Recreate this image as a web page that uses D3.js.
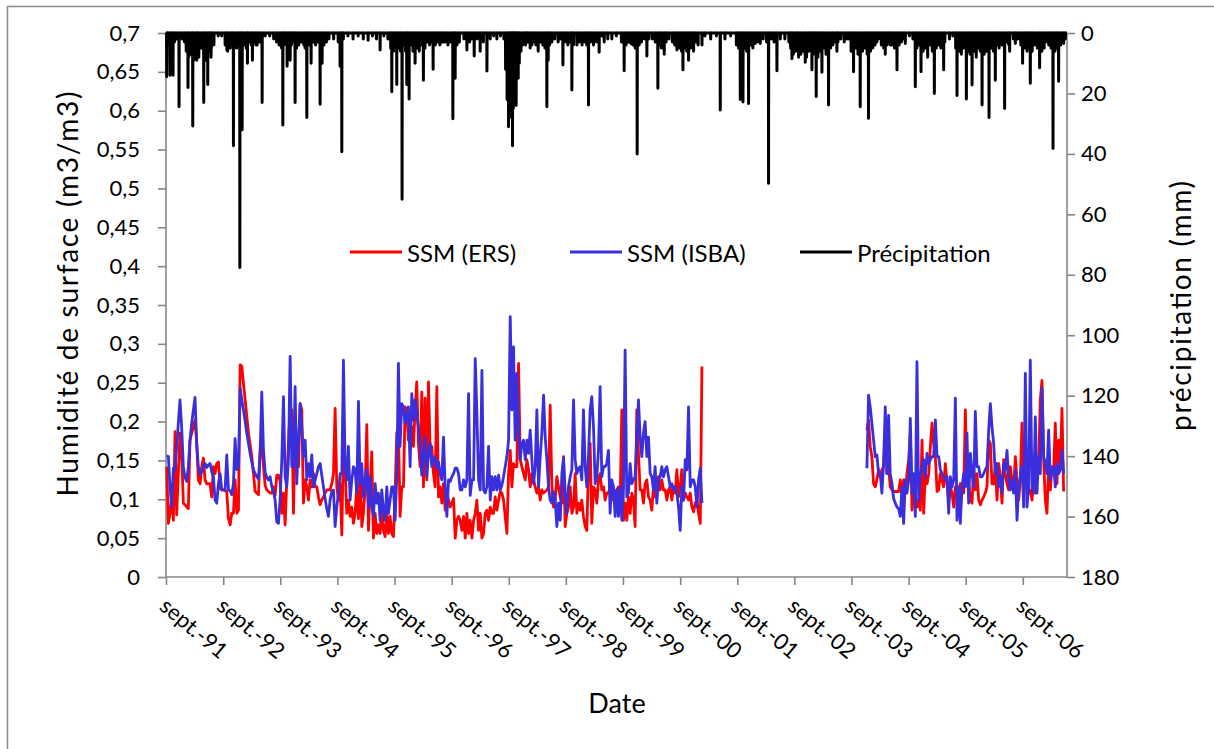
<!DOCTYPE html>
<html><head><meta charset="utf-8">
<script src="https://cdn.jsdelivr.net/npm/d3@7"></script>
<style>
body{margin:0;background:#fff;}
text{font-family:Lato,"Open Sans",sans-serif;fill:#000;}
</style></head>
<body><svg id="chart" width="1214" height="749"></svg>
<script>
// ---------- data (dates are decimal years) ----------
const xTickLabels = ["sept.-91","sept.-92","sept.-93","sept.-94","sept.-95","sept.-96","sept.-97","sept.-98","sept.-99","sept.-00","sept.-01","sept.-02","sept.-03","sept.-04","sept.-05","sept.-06"];
const xTickYears = [1991,1992,1993,1994,1995,1996,1997,1998,1999,2000,2001,2002,2003,2004,2005,2006];
const ssmTicks = [0,0.05,0.1,0.15,0.2,0.25,0.3,0.35,0.4,0.45,0.5,0.55,0.6,0.65,0.7];
const ssmTickLabels = ["0","0,05","0,1","0,15","0,2","0,25","0,3","0,35","0,4","0,45","0,5","0,55","0,6","0,65","0,7"];
const precipTicks = [0,20,40,60,80,100,120,140,160,180];

// SSM period 1 (1991-2001)
const period1Dates = [
1991.678,1991.707,1991.736,1991.765,1991.795,1991.824,1991.853,1991.882,1991.911,1991.940,
1991.970,1991.999,1992.028,1992.057,1992.086,1992.116,1992.145,1992.174,1992.203,1992.232,
1992.262,1992.291,1992.320,1992.349,1992.378,1992.407,1992.437,1992.466,1992.495,1992.524,
1992.553,1992.583,1992.612,1992.641,1992.670,1992.699,1992.728,1992.758,1992.787,1992.816,
1992.845,1992.874,1992.904,1992.933,1992.962,1992.991,1993.020,1993.050,1993.079,1993.108,
1993.137,1993.166,1993.195,1993.225,1993.254,1993.283,1993.312,1993.341,1993.371,1993.400,
1993.429,1993.458,1993.487,1993.517,1993.546,1993.575,1993.604,1993.633,1993.662,1993.692,
1993.721,1993.750,1993.779,1993.808,1993.838,1993.867,1993.896,1993.925,1993.954,1993.984,
1994.013,1994.042,1994.071,1994.101,1994.130,1994.159,1994.188,1994.217,1994.247,1994.276,
1994.305,1994.334,1994.363,1994.392,1994.422,1994.451,1994.480,1994.509,1994.538,1994.568,
1994.597,1994.626,1994.655,1994.684,1994.714,1994.743,1994.772,1994.801,1994.830,1994.859,
1994.889,1994.918,1994.947,1994.976,1995.005,1995.035,1995.064,1995.093,1995.122,1995.151,
1995.181,1995.210,1995.239,1995.268,1995.297,1995.327,1995.356,1995.385,1995.414,1995.443,
1995.473,1995.502,1995.531,1995.560,1995.589,1995.618,1995.648,1995.677,1995.706,1995.735,
1995.764,1995.794,1995.823,1995.852,1995.881,1995.910,1995.940,1995.969,1995.998,1996.027,
1996.056,1996.085,1996.115,1996.144,1996.173,1996.202,1996.231,1996.261,1996.290,1996.319,
1996.348,1996.377,1996.407,1996.436,
1996.465,1996.494,1996.523,1996.553,1996.582,1996.611,1996.640,1996.669,1996.699,1996.728,
1996.757,1996.786,1996.815,1996.844,1996.874,1996.903,1996.932,1996.961,1996.990,1997.020,
1997.049,1997.078,1997.107,1997.136,1997.166,1997.195,1997.224,1997.253,1997.282,1997.311,
1997.341,1997.370,1997.399,1997.428,1997.457,1997.487,1997.516,1997.545,1997.574,1997.603,
1997.633,1997.662,1997.691,1997.720,1997.749,1997.778,1997.808,1997.837,1997.866,1997.895,
1997.924,1997.954,1997.983,1998.012,1998.041,1998.070,1998.100,1998.129,1998.158,1998.187,
1998.216,1998.245,1998.275,1998.304,1998.333,1998.362,1998.391,1998.421,1998.450,1998.479,
1998.508,1998.537,1998.567,1998.596,1998.625,1998.654,1998.683,1998.712,1998.742,1998.771,
1998.800,1998.829,1998.858,1998.888,
1998.916,1998.945,1998.974,1999.004,1999.033,1999.062,1999.091,1999.120,1999.150,1999.179,
1999.208,1999.237,1999.266,1999.295,1999.325,1999.354,1999.383,1999.412,1999.441,1999.471,
1999.500,1999.529,1999.558,1999.587,1999.617,1999.646,1999.675,1999.704,1999.733,1999.762,
1999.792,1999.821,1999.850,1999.879,1999.908,1999.938,1999.967,1999.996,2000.025,2000.054,
2000.084,2000.113,2000.142,2000.171,2000.200,2000.229,2000.259,2000.288,2000.317,2000.346,
2000.375,2000.405,2000.434,2000.463,2000.492,2000.521,2000.551,2000.580,2000.609,2000.638,
2000.667,2000.696,2000.726,2000.755,2000.784,2000.813,2000.842,2000.872,2000.901,2000.930,
2000.959,2000.988,2001.018,2001.047];
const period1ERS = [
0.142,0.069,0.082,0.103,0.073,0.187,0.080,0.133,0.185,0.159,
0.095,0.093,0.090,0.088,0.176,0.185,0.193,0.202,0.172,0.125,
0.120,0.142,0.153,0.125,0.120,0.120,0.120,0.103,0.142,0.133,
0.146,0.148,0.114,0.112,0.112,0.111,0.110,0.075,0.067,0.082,
0.082,0.125,0.082,0.086,0.273,0.271,0.249,0.228,0.206,0.185,
0.170,0.155,0.133,0.110,0.108,0.106,0.163,0.176,0.142,0.118,
0.112,0.110,0.108,0.108,0.116,0.105,0.131,0.131,0.123,0.082,
0.108,0.067,0.125,0.172,0.215,0.215,0.082,0.193,0.176,0.142,
0.223,0.215,0.095,0.125,0.116,0.099,0.125,0.116,0.133,0.116,
0.116,0.103,0.093,0.099,0.103,0.108,0.112,0.112,0.112,0.120,
0.133,0.217,0.116,0.099,0.120,0.054,0.176,0.142,0.082,0.099,
0.078,0.090,0.069,0.082,0.116,0.075,0.146,0.065,0.082,0.112,
0.196,0.060,0.116,0.161,0.050,0.082,0.056,0.067,0.056,0.090,
0.060,0.052,0.082,0.056,0.078,0.056,0.052,0.108,0.185,0.193,
0.078,0.116,0.116,0.219,0.215,0.176,0.189,0.193,0.168,0.215,
0.251,0.172,0.142,0.238,0.116,0.230,0.125,0.251,0.163,0.168,
0.133,0.116,0.245,0.103,
0.116,0.095,0.120,0.086,0.108,0.099,0.090,0.095,0.101,0.050,
0.073,0.078,0.073,0.060,0.078,0.050,0.082,0.056,0.073,0.050,
0.073,0.082,0.099,0.060,0.082,0.050,0.056,0.082,0.086,0.073,
0.090,0.082,0.082,0.103,0.086,0.099,0.110,0.108,0.099,0.078,
0.056,0.133,0.163,0.116,0.146,0.142,0.142,0.275,0.151,0.142,
0.133,0.125,0.151,0.138,0.116,0.133,0.125,0.116,0.108,0.116,
0.099,0.112,0.108,0.110,0.112,0.116,0.221,0.116,0.090,0.099,
0.129,0.116,0.103,0.095,0.155,0.065,0.082,0.090,0.116,0.082,
0.090,0.133,0.082,0.095,
0.086,0.099,0.078,0.065,0.060,0.142,0.172,0.069,0.116,0.112,
0.095,0.125,0.133,0.112,0.116,0.099,0.108,0.108,0.116,0.099,
0.108,0.103,0.112,0.116,0.099,0.215,0.073,0.095,0.073,0.103,
0.082,0.108,0.099,0.065,0.215,0.159,0.112,0.112,0.095,0.120,
0.125,0.103,0.099,0.086,0.116,0.103,0.112,0.129,0.112,0.125,
0.112,0.112,0.099,0.112,0.116,0.099,0.116,0.108,0.138,0.103,
0.116,0.138,0.099,0.108,0.103,0.099,0.108,0.090,0.084,0.095,
0.099,0.082,0.069,0.271];
const period1ISBA = [
0.156,0.155,0.116,0.090,0.140,0.138,0.168,0.198,0.228,0.193,
0.142,0.128,0.123,0.142,0.176,0.198,0.215,0.231,0.172,0.142,
0.132,0.135,0.142,0.146,0.141,0.144,0.146,0.135,0.129,0.099,
0.095,0.120,0.133,0.112,0.112,0.112,0.157,0.112,0.111,0.106,
0.120,0.178,0.138,0.142,0.243,0.228,0.215,0.200,0.185,0.172,
0.159,0.148,0.138,0.133,0.129,0.126,0.159,0.238,0.163,0.135,
0.128,0.125,0.129,0.116,0.110,0.099,0.071,0.069,0.099,0.151,
0.232,0.129,0.116,0.151,0.284,0.142,0.142,0.245,0.120,0.176,
0.223,0.193,0.155,0.176,0.125,0.146,0.129,0.157,0.116,0.125,
0.133,0.142,0.146,0.131,0.116,0.101,0.088,0.078,0.099,0.110,
0.112,0.065,0.090,0.108,0.133,0.133,0.279,0.142,0.125,0.168,
0.099,0.125,0.142,0.138,0.108,0.226,0.120,0.146,0.103,0.125,
0.138,0.090,0.129,0.090,0.078,0.120,0.095,0.108,0.073,0.112,
0.086,0.073,0.116,0.082,0.099,0.116,0.116,0.073,0.129,0.275,
0.168,0.223,0.219,0.198,0.206,0.219,0.142,0.236,0.202,0.228,
0.210,0.193,0.168,0.131,0.159,0.180,0.129,0.159,0.172,0.142,
0.151,0.155,0.140,0.148,
0.133,0.125,0.180,0.116,0.078,0.125,0.123,0.129,0.133,0.140,
0.140,0.133,0.112,0.112,0.125,0.116,0.125,0.236,0.105,0.125,
0.125,0.281,0.210,0.125,0.112,0.266,0.112,0.108,0.116,0.168,
0.099,0.129,0.112,0.129,0.112,0.131,0.112,0.118,0.129,0.142,
0.155,0.176,0.335,0.215,0.296,0.176,0.262,0.196,0.151,0.172,
0.176,0.151,0.176,0.159,0.189,0.151,0.120,0.142,0.215,0.116,
0.155,0.185,0.234,0.180,0.151,0.116,0.099,0.095,0.110,0.099,
0.065,0.095,0.073,0.133,0.153,0.108,0.082,0.116,0.129,0.138,
0.228,0.151,0.133,0.140,
0.142,0.125,0.215,0.142,0.116,0.155,0.215,0.232,0.193,0.120,
0.129,0.163,0.245,0.129,0.142,0.142,0.146,0.163,0.082,0.125,
0.116,0.078,0.112,0.078,0.116,0.073,0.116,0.292,0.103,0.108,
0.146,0.120,0.125,0.129,0.180,0.228,0.180,0.155,0.185,0.200,
0.155,0.180,0.133,0.129,0.112,0.142,0.095,0.125,0.129,0.142,
0.129,0.138,0.142,0.129,0.116,0.120,0.112,0.116,0.108,0.090,
0.060,0.116,0.099,0.151,0.138,0.219,0.116,0.125,0.125,0.116,
0.090,0.125,0.140,0.095];

// SSM period 2 (2003-2007)
const period2Dates = [
2003.937,2003.966,2003.995,2004.024,2004.054,2004.083,2004.112,2004.141,2004.170,2004.199,
2004.229,2004.258,2004.287,2004.316,2004.345,2004.375,2004.404,2004.433,2004.462,2004.491,
2004.521,2004.550,2004.579,2004.608,2004.637,2004.667,2004.696,2004.725,2004.754,2004.783,
2004.812,2004.842,2004.871,2004.900,2004.929,2004.958,2004.988,2005.017,2005.046,2005.075,
2005.104,2005.134,2005.163,2005.192,2005.221,2005.250,2005.279,2005.309,2005.338,2005.367,
2005.396,2005.425,2005.455,2005.484,2005.513,2005.542,2005.571,2005.601,2005.630,2005.659,
2005.688,2005.717,2005.747,2005.776,2005.805,2005.834,2005.863,2005.892,2005.922,2005.951,
2005.980,2006.009,2006.038,2006.068,2006.097,2006.126,2006.155,2006.184,2006.214,2006.243,
2006.272,2006.301,2006.330,2006.359,2006.389,2006.418,2006.447,2006.476,2006.505,2006.535,
2006.564,2006.593,2006.622,2006.651,2006.681,2006.710,2006.739,2006.768,2006.797,2006.827,
2006.856,2006.885,2006.914,2006.943,2006.972,2007.002,2007.031,2007.060,2007.089,2007.118,
2007.148,2007.177,2007.206,2007.235,2007.264,2007.294,2007.323,2007.352,2007.381];
const period2ERS = [
0.189,0.202,0.168,0.155,0.120,0.116,0.125,0.138,0.129,0.138,
0.142,0.193,0.133,0.142,0.116,0.112,0.110,0.110,0.110,0.110,
0.125,0.103,0.125,0.108,0.133,0.151,0.185,0.086,0.108,0.103,
0.090,0.099,0.086,0.176,0.082,0.133,0.120,0.133,0.168,0.198,
0.172,0.155,0.110,0.112,0.133,0.125,0.116,0.146,0.120,0.099,
0.116,0.108,0.090,0.116,0.112,0.103,0.120,0.116,0.108,0.215,
0.120,0.120,0.099,0.095,0.142,0.112,0.133,0.099,0.093,0.099,
0.103,0.108,0.116,0.176,0.172,0.120,0.120,0.142,0.099,0.146,
0.129,0.095,0.151,0.133,0.120,0.112,0.142,0.125,0.112,0.155,
0.125,0.099,0.125,0.198,0.116,0.163,0.125,0.108,0.112,0.099,
0.125,0.108,0.133,0.146,0.228,0.253,0.151,0.099,0.082,0.142,
0.112,0.142,0.138,0.198,0.120,0.176,0.138,0.217,0.110];
const period2ISBA = [
0.140,0.234,0.219,0.198,0.176,0.155,0.157,0.133,0.133,0.108,
0.146,0.219,0.133,0.208,0.133,0.120,0.101,0.095,0.090,0.088,
0.078,0.116,0.069,0.125,0.108,0.125,0.204,0.108,0.133,0.078,
0.277,0.099,0.133,0.138,0.151,0.129,0.159,0.146,0.151,0.155,
0.155,0.202,0.155,0.155,0.138,0.133,0.129,0.125,0.129,0.082,
0.129,0.116,0.125,0.230,0.073,0.116,0.069,0.116,0.133,0.116,
0.185,0.095,0.159,0.133,0.116,0.213,0.142,0.142,0.129,0.129,
0.133,0.138,0.142,0.189,0.223,0.193,0.172,0.133,0.146,0.116,
0.129,0.108,0.146,0.138,0.163,0.125,0.112,0.125,0.108,0.138,
0.073,0.116,0.129,0.142,0.090,0.262,0.090,0.116,0.279,0.116,
0.108,0.206,0.108,0.155,0.133,0.243,0.155,0.146,0.133,0.189,
0.125,0.138,0.142,0.116,0.146,0.133,0.138,0.163,0.133];

// Daily precipitation (mm): main rain events
const stormDates = [1991.678,1991.736,1991.789,1991.894,1992.051,1992.134,1992.204,1992.326,1992.396,1992.454,1992.729,1992.845,1992.957,1992.997,1993.090,1993.177,1993.237,1993.347,1993.710,1993.785,1993.838,1993.925,1994.130,1994.205,1994.363,1994.398,1994.713,1994.743,1995.204,1995.414,1995.619,1995.706,1995.799,1995.881,1995.922,1996.027,1996.172,1996.342,1996.517,1996.687,1996.727,1996.932,1997.060,1997.165,1997.283,1997.457,1997.661,1997.731,1997.778,1997.831,1997.983,1998.071,1998.181,1998.333,1998.356,1998.614,1998.771,1998.859,1999.062,1999.249,1999.337,1999.472,1999.687,1999.804,1999.915,2000.085,2000.277,2000.388,2000.610,2000.715,2000.813,2000.901,2001.048,2001.368,2001.719,2001.766,2001.864,2001.981,2002.069,2002.214,2002.361,2002.624,2002.740,2002.857,2002.974,2003.049,2003.149,2003.265,2003.412,2003.587,2003.703,2003.820,2003.965,2004.113,2004.258,2004.346,2004.463,2004.608,2004.783,2004.883,2004.999,2005.116,2005.279,2005.513,2005.677,2005.777,2005.952,2006.074,2006.184,2006.347,2006.435,2006.535,2006.662,2006.797,2006.960,2007.090,2007.195,2007.293,2007.380];
const stormMm = [14.5,14,14,24.4,18,30.8,9,23,17,8,5.6,37.3,77.6,32,10,9,4,23,30.4,11,9,23,28,10,23.6,10,11,39.3,2.4,5.6,19.4,17,55,17,21.8,10,15.6,12,3,28.4,15,5.6,7.6,6,12.6,2,31,37.3,22,15,2.5,4,6,24.4,9,10.6,18.9,4,23.8,6.4,3,2,12.5,3.5,40,7.6,18.3,7,5.6,12.2,9,6,4,25.5,22,22.8,23.3,3.5,3.5,49.7,12.5,8.5,8,9.7,12.2,21,13,23.8,6,2,12.8,24.4,28.2,3,7,4,12.2,3.5,17.8,12.8,8,20,12.2,20.7,21.8,17.2,23.8,28,15.6,25,6,3.5,10,16.6,11.5,3,38.2,16,3.5];
// Daily precipitation (mm): light rain days [date, mm]
const lightRain = [[1991.700,4],[1991.760,5],[1991.815,3],[1991.850,2],[1991.950,2],[1991.990,3],
[1992.020,6],[1992.064,8],[1992.108,7],[1992.152,9],[1992.196,6],[1992.240,8],[1992.284,5],[1992.328,7],[1992.372,9],[1992.416,6],[1992.460,5],[1992.504,4],[1992.580,1],[1992.640,1],
[1992.700,4],[1992.744,6],[1992.788,5],[1992.822,4],
[1992.900,5],[1992.930,4],[1992.980,6],[1993.024,4],[1993.068,5],[1993.112,3],[1993.156,4],[1993.200,3],[1993.260,4],[1993.300,3],
[1993.400,1],[1993.480,1],[1993.550,2],
[1993.600,3],[1993.644,4],[1993.688,5],[1993.732,4],[1993.760,3],[1993.810,5],[1993.860,4],[1993.900,3],[1993.950,5],[1993.990,4],[1994.034,3],[1994.078,4],[1994.100,5],[1994.166,4],[1994.240,3],[1994.284,4],[1994.328,3],[1994.430,4],[1994.474,3],[1994.518,2],
[1994.600,2],[1994.680,3],[1994.770,2],
[1994.850,1],[1994.940,2],[1995.030,1],[1995.120,2],[1995.280,1],[1995.350,2],[1995.480,1],[1995.550,2],
[1995.600,5],[1995.650,6],[1995.680,4],[1995.740,5],[1995.770,6],[1995.830,4],[1995.860,6],[1995.900,5],[1995.960,4],[1995.990,6],[1996.060,5],[1996.100,6],[1996.140,4],[1996.200,5],[1996.240,3],[1996.280,4],[1996.320,3],[1996.380,4],[1996.420,3],[1996.460,4],[1996.490,3],[1996.550,3],
[1996.600,4],[1996.640,3],[1996.700,5],[1996.760,4],[1996.800,3],
[1996.880,2],[1996.980,3],[1997.020,2],[1997.110,2],[1997.220,3],[1997.340,2],[1997.400,1],[1997.520,1],[1997.580,2],
[1997.610,12],[1997.636,22],[1997.675,26],[1997.700,18],[1997.715,28],[1997.745,25],[1997.760,20],[1997.795,24],[1997.810,14],[1997.850,10],[1997.880,6],[1997.910,4],[1997.940,3],
[1997.960,4],[1998.000,3],[1998.040,5],[1998.100,3],[1998.140,4],[1998.220,3],[1998.260,4],[1998.300,5],[1998.380,4],[1998.420,3],[1998.470,2],[1998.530,3],[1998.570,2],[1998.650,3],[1998.700,4],[1998.740,3],[1998.800,4],[1998.900,3],[1998.950,4],[1999.000,3],[1999.030,4],[1999.100,3],[1999.150,4],[1999.200,3],
[1999.300,1],[1999.400,2],[1999.550,1],
[1999.640,3],[1999.720,4],[1999.760,3],[1999.840,4],[1999.880,5],[1999.950,4],[1999.990,3],[2000.040,2],[2000.120,2],[2000.180,2],[2000.230,3],[2000.300,4],[2000.340,5],[2000.420,3],[2000.470,2],[2000.530,3],[2000.570,4],[2000.650,5],[2000.690,6],[2000.750,5],[2000.780,6],[2000.850,5],[2000.870,4],[2000.940,3],[2000.980,4],
[2001.100,1],[2001.200,2],[2001.300,1],[2001.450,2],[2001.550,1],
[2001.650,4],[2001.690,5],[2001.740,6],[2001.790,5],[2001.830,6],[2001.900,4],[2001.940,5],[2002.020,3],
[2002.120,2],[2002.180,3],[2002.260,2],[2002.310,3],[2002.420,2],[2002.500,2],[2002.570,3],
[2002.600,5],[2002.650,7],[2002.690,6],[2002.720,5],[2002.780,7],[2002.820,6],[2002.880,8],[2002.920,6],[2002.950,5],[2003.000,7],[2003.030,6],[2003.080,8],[2003.110,6],[2003.180,5],[2003.220,7],[2003.300,5],[2003.340,4],[2003.370,3],
[2003.430,3],[2003.480,2],[2003.540,3],[2003.620,2],
[2003.660,6],[2003.740,5],[2003.780,7],[2003.860,6],[2003.900,5],[2003.940,7],[2004.000,6],[2004.040,5],[2004.080,4],[2004.140,2],
[2004.190,4],[2004.230,5],[2004.290,4],[2004.320,3],[2004.380,4],[2004.420,5],[2004.500,4],[2004.540,3],[2004.580,2],[2004.680,1],[2004.740,2],
[2004.810,5],[2004.850,4],[2004.920,6],[2004.960,5],[2005.040,4],[2005.080,6],[2005.150,5],[2005.190,4],[2005.230,5],[2005.300,3],[2005.380,2],[2005.440,1],
[2005.490,5],[2005.550,6],[2005.590,7],[2005.630,5],[2005.710,6],[2005.740,7],[2005.810,6],[2005.850,8],[2005.890,5],[2005.920,6],[2005.990,7],[2006.030,6],[2006.110,5],[2006.150,6],[2006.220,4],[2006.250,5],
[2006.300,4],[2006.390,3],[2006.420,4],[2006.500,2],[2006.580,2],
[2006.630,4],[2006.700,5],[2006.740,6],[2006.770,5],[2006.830,6],[2006.870,4],[2006.920,5],[2007.000,6],[2007.040,5],[2007.120,4],[2007.160,5],[2007.230,6],[2007.260,5],[2007.330,4],[2007.360,3],[2007.410,2]];

// ---------- helpers ----------
function yearToDate(y){
  const yr=Math.floor(y), s=Date.UTC(yr,0,1), e=Date.UTC(yr+1,0,1);
  return new Date(s+(y-yr)*(e-s));
}
const DAY=864e5;

// ---------- layout ----------
const svg=d3.select("#chart");
const M={left:166,right:1067,top:33,bottom:577};
const AXIS="#868686";
const RED="#ff0000", BLUE="#3a2fdc";

svg.append("rect").attr("x",7.5).attr("y",6.5).attr("width",1215).attr("height",760)
  .attr("fill","#fff").attr("stroke","#8a8a8a").attr("stroke-width",1.5);

const x=d3.scaleUtc().domain([new Date(Date.UTC(1991,8,1)), yearToDate(2007.44)]).range([M.left,M.right]);
const y=d3.scaleLinear().domain([0,0.7]).range([M.bottom,M.top]);
const yP=d3.scaleLinear().domain([0,180]).range([M.top,M.bottom]);

// left axis
const gL=svg.append("g").attr("transform",`translate(${M.left},0)`)
  .call(d3.axisLeft(y).tickValues(ssmTicks).tickFormat((d,i)=>ssmTickLabels[i]).tickSize(8).tickPadding(18));
// right axis
const gR=svg.append("g").attr("transform",`translate(${M.right},0)`)
  .call(d3.axisRight(yP).tickValues(precipTicks).tickSize(8).tickPadding(6));
// bottom axis
const xTickDates=xTickYears.map(yy=>new Date(Date.UTC(yy,8,1)));
const gB=svg.append("g").attr("transform",`translate(0,${M.bottom})`)
  .call(d3.axisBottom(x).tickValues(xTickDates).tickFormat((d,i)=>xTickLabels[i]).tickSize(8).tickSizeOuter(0));
[gL,gR,gB].forEach(g=>{
  g.select(".domain").attr("stroke",AXIS).attr("stroke-width",1.6);
  g.selectAll(".tick line").attr("stroke",AXIS).attr("stroke-width",1.6);
  g.selectAll("text").style("font-size","22px").attr("fill","#000");
});
gL.select(".domain").attr("d",`M0,${M.bottom}V${M.top}`);
gR.select(".domain").attr("d",`M0,${M.bottom}V${M.top}`);
gB.select(".domain").attr("d",`M${M.left},0H${M.right}`);
gB.selectAll(".tick text").attr("text-anchor","start").attr("dy",null).attr("y",null)
  .attr("dominant-baseline","hanging")
  .attr("transform","translate(3,18) rotate(40)");

// SSM lines
function ssmLine(dates, vals){
  return d3.line().x((d,i)=>x(yearToDate(dates[i]))).y(d=>y(d))(vals);
}
const seriesERS=[[period1Dates,period1ERS],[period2Dates,period2ERS]];
const seriesISBA=[[period1Dates,period1ISBA],[period2Dates,period2ISBA]];
seriesERS.forEach(([d,v])=>svg.append("path").attr("d",ssmLine(d,v)).attr("fill","none")
  .attr("stroke",RED).attr("stroke-width",2.8).attr("stroke-linejoin","round"));
seriesISBA.forEach(([d,v])=>svg.append("path").attr("d",ssmLine(d,v)).attr("fill","none")
  .attr("stroke",BLUE).attr("stroke-width",2.8).attr("stroke-linejoin","round"));

// precipitation line (daily, reversed secondary axis)
const events=stormDates.map((t,i)=>({t,v:stormMm[i]})).concat(lightRain.map(([t,v])=>({t,v}))).sort((a,b)=>a.t-b.t);
const pts=[{d:x.domain()[0],v:0}];
events.forEach(e=>{const dt=yearToDate(e.t);
  pts.push({d:new Date(+dt-DAY),v:0},{d:dt,v:e.v},{d:new Date(+dt+DAY),v:0});});
pts.push({d:x.domain()[1],v:0});
svg.append("path").attr("d",d3.line().x(p=>x(p.d)).y(p=>yP(p.v))(pts))
  .attr("fill","none").attr("stroke","#000").attr("stroke-width",3).attr("stroke-linejoin","round");

// legend
const legend=[{label:"SSM (ERS)",color:RED,x:350},{label:"SSM (ISBA)",color:BLUE,x:570},{label:"Précipitation",color:"#000",x:800}];
legend.forEach(l=>{
  svg.append("line").attr("x1",l.x).attr("x2",l.x+52).attr("y1",252).attr("y2",252)
    .attr("stroke",l.color).attr("stroke-width",3);
  svg.append("text").attr("x",l.x+57).attr("y",252).attr("dominant-baseline","central")
    .style("font-size","24px").text(l.label);
});

// titles
svg.append("text").attr("transform","translate(67,294) rotate(-90)").attr("text-anchor","middle")
  .attr("dominant-baseline","central").style("font-size","28px")
  .attr("textLength",405).attr("lengthAdjust","spacing").text("Humidité de surface (m3/m3)");
svg.append("text").attr("transform","translate(1180,306) rotate(-90)").attr("text-anchor","middle")
  .attr("dominant-baseline","central").style("font-size","28px")
  .attr("textLength",250).attr("lengthAdjust","spacing").text("précipitation (mm)");
svg.append("text").attr("x",617).attr("y",702).attr("text-anchor","middle")
  .attr("dominant-baseline","central").style("font-size","27px").text("Date");
</script></body></html>
